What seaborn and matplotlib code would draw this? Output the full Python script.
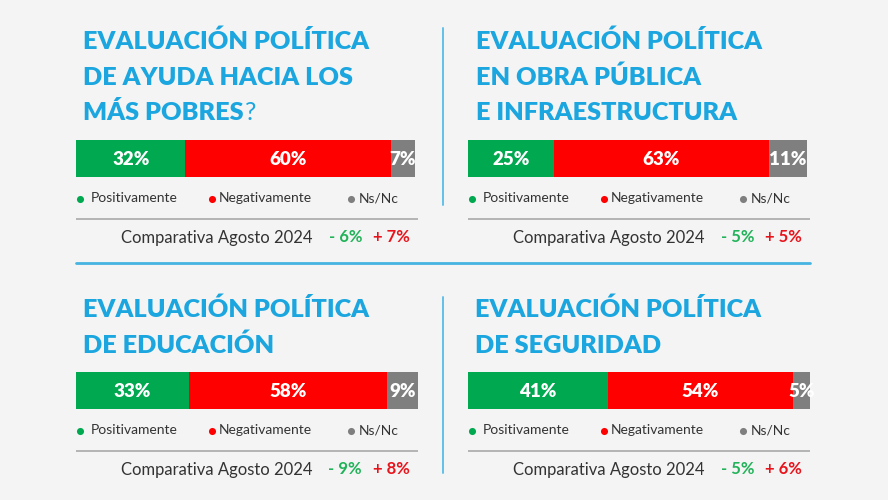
import matplotlib
matplotlib.use("Agg")
import matplotlib.pyplot as plt
import seaborn as sns
import pandas as pd

# ---------------- data ----------------
titles = [
    ["EVALUACIÓN POLÍTICA", "DE AYUDA HACIA LOS", "MÁS POBRES"],
    ["EVALUACIÓN POLÍTICA", "EN OBRA PÚBLICA", "E INFRAESTRUCTURA"],
    ["EVALUACIÓN POLÍTICA", "DE EDUCACIÓN"],
    ["EVALUACIÓN POLÍTICA", "DE SEGURIDAD"],
]
title_suffix = ["?", "", "", ""]
positive = [32, 25, 33, 41]
negative = [60, 63, 58, 54]
nsnc = [7, 11, 9, 5]
legend_labels = ["Positivamente", "Negativamente", "Ns/Nc"]
comp_label = "Comparativa Agosto 2024"
delta_pos = ["- 6%", "- 5%", "- 9%", "- 5%"]
delta_neg = ["+ 7%", "+ 5%", "+ 8%", "+ 6%"]

# ---------------- style ----------------
BG = "#f4f4f4"
GREEN = "#00a84f"
RED = "#ff0000"
GRAY = "#7f7f7f"
BLUE = "#1ba6df"
SEP_BLUE = "#62c0e8"
TXT = "#333333"
DGREEN = "#22b35a"
DRED = "#e8141c"

sns.set_theme(style="white")
plt.rcParams['font.family'] = ['Lato', 'DejaVu Sans']

W, H = 888, 500
fig = plt.figure(figsize=(W / 100, H / 100), dpi=100)
fig.patch.set_facecolor(BG)

ov = fig.add_axes([0, 0, 1, 1])
ov.set_xlim(0, W)
ov.set_ylim(H, 0)
ov.axis('off')
ov.set_facecolor('none')

# layout (pixels)
bar_left = [76, 468, 76, 468]
bar_top = [140, 140, 372, 372]
BAR_W, BAR_H = 342, 37
title_x = [83, 476, 83, 475]
title_base = [49, 49, 317, 317]
LINE_SP = 35.7

fig.canvas.draw()
renderer = fig.canvas.get_renderer()

# fit title size to reference width
probe = ov.text(0, 0, titles[0][0], fontsize=19, fontweight='heavy')
w = probe.get_window_extent(renderer).width
title_fs = 19 * 287 / w
probe.remove()

for i in range(4):
    L = bar_left[i]
    T = bar_top[i]
    # titles
    for j, line in enumerate(titles[i]):
        t = ov.text(title_x[i], title_base[i] + j * LINE_SP, line, fontsize=title_fs,
                    fontweight='heavy', color=BLUE, va='baseline', ha='left')
        if j == len(titles[i]) - 1 and title_suffix[i]:
            bb = t.get_window_extent(renderer)
            ov.text(title_x[i] + bb.width + 1, title_base[i] + j * LINE_SP, title_suffix[i],
                    fontsize=title_fs, color=BLUE, va='baseline', ha='left')

    # stacked bar with seaborn (overlay cumulative bars)
    ax = fig.add_axes([L / W, 1 - (T + BAR_H) / H, BAR_W / W, BAR_H / H])
    cum_total = positive[i] + negative[i] + nsnc[i]
    cum_neg = positive[i] + negative[i]
    df = pd.DataFrame({"cat": ["a"], "total": [cum_total], "neg": [cum_neg], "pos": [positive[i]]})
    sns.barplot(data=df, x="total", y="cat", orient="h", color=GRAY, width=1.0,
                linewidth=0, saturation=1, ax=ax)
    sns.barplot(data=df, x="neg", y="cat", orient="h", color=RED, width=1.0,
                linewidth=0, saturation=1, ax=ax)
    sns.barplot(data=df, x="pos", y="cat", orient="h", color=GREEN, width=1.0,
                linewidth=0, saturation=1, ax=ax)
    ax.set_xlim(0, 100)
    ax.set_ylim(0.5, -0.5)
    ax.axis('off')
    ax.set_facecolor('none')
    total_patch = ax.patches[0]
    segs = [(0, positive[i]), (positive[i], cum_neg), (cum_neg, cum_total)]
    vals = [positive[i], negative[i], nsnc[i]]
    for (a, b), v in zip(segs, vals):
        tx = ax.text((a + b) / 2, 0.04, f"{v}%", ha='center', va='center', color='white',
                     fontsize=13.5, fontweight='heavy')
        tx.set_clip_path(total_patch)

    # legend
    ly = T + 58
    for k, (dx, tdx, col) in enumerate([(4, 15, GREEN), (136, 143, RED), (275, 283, GRAY)]):
        ov.scatter([L + dx], [ly + 1], s=26, color=col, linewidths=0)
        ov.text(L + tdx, ly + 4.5, legend_labels[k], fontsize=10, color=TXT,
                va='baseline', ha='left')

    # separator line
    ov.plot([L, L + BAR_W], [T + 79, T + 79], color="#b4b4b4", lw=1.4, solid_capstyle='butt')

    # comparison row
    cy = T + 97 + 5.5
    ov.text(L + 236, cy, comp_label, fontsize=12, color=TXT, ha='right', va='baseline')
    ov.text(L + 286, cy, delta_pos[i], fontsize=12, color=DGREEN, ha='right',
            va='baseline', fontweight='bold')
    ov.text(L + 334, cy, delta_neg[i], fontsize=12, color=DRED, ha='right',
            va='baseline', fontweight='bold')

# separators between panels
ov.plot([443, 443], [28, 205], color=SEP_BLUE, lw=1.4)
ov.plot([443, 443], [297, 473], color=SEP_BLUE, lw=1.4)
ov.plot([76, 810], [263, 263], color="#45b4e0", lw=2)

fig.savefig("out.png", dpi=100, facecolor=BG)
